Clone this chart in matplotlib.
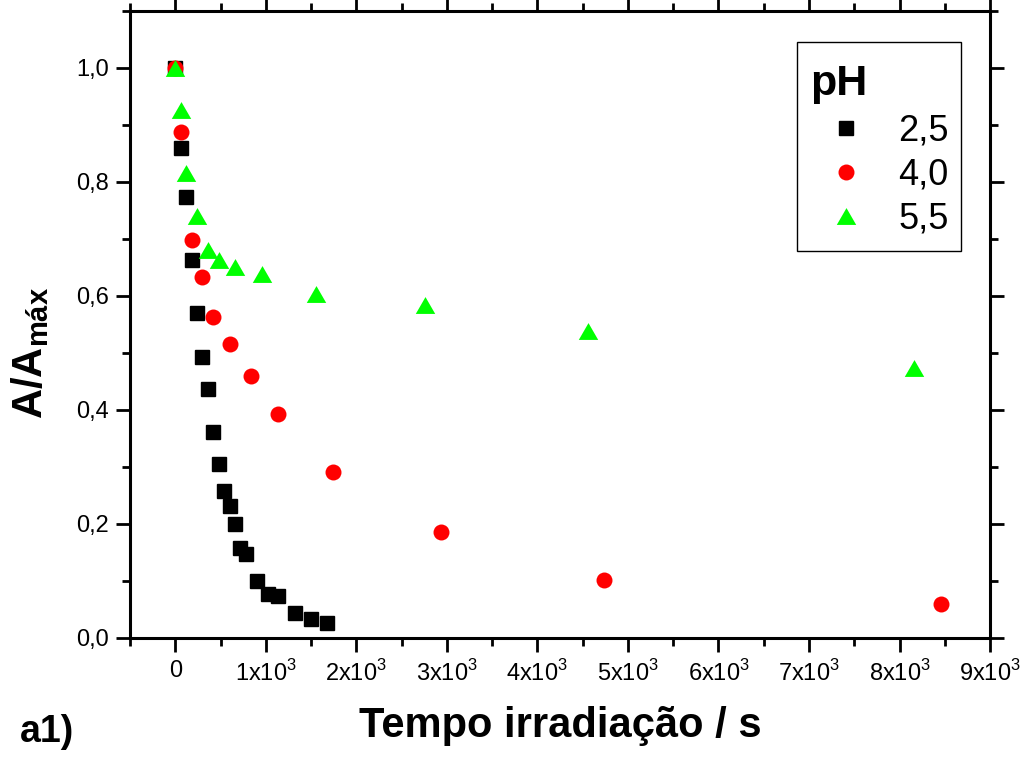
import numpy as np
import matplotlib
matplotlib.use("Agg")
import matplotlib.pyplot as plt
from matplotlib.patches import Rectangle
from matplotlib.ticker import MultipleLocator, FixedLocator

plt.rcParams['font.family'] = ['Liberation Sans', 'DejaVu Sans']
plt.rcParams['mathtext.fontset'] = 'custom'
plt.rcParams['mathtext.rm'] = 'Liberation Sans'
plt.rcParams['mathtext.bf'] = 'Liberation Sans:bold'

# pH 2,5
t_25 = [0, 60, 120, 180, 240, 300, 360, 420, 480, 540, 600, 660, 720, 780,
        900, 1020, 1140, 1320, 1500, 1680]
a_25 = [1.0, 0.86, 0.774, 0.663, 0.571, 0.493, 0.437, 0.361, 0.306, 0.258,
        0.232, 0.2, 0.158, 0.147, 0.1, 0.077, 0.074, 0.044, 0.033, 0.027]
# pH 4,0
t_40 = [0, 60, 180, 300, 420, 600, 840, 1140, 1740, 2940, 4740, 8460]
a_40 = [1.0, 0.888, 0.698, 0.633, 0.563, 0.516, 0.46, 0.393, 0.291, 0.186,
        0.102, 0.06]
# pH 5,5
t_55 = [0, 60, 120, 240, 360, 480, 660, 960, 1560, 2760, 4560, 8160]
a_55 = [1.0, 0.927, 0.816, 0.741, 0.681, 0.663, 0.651, 0.639, 0.604, 0.584,
        0.539, 0.474]

labels = ["2,5", "4,0", "5,5"]

tri = [(-1, -0.866), (1, -0.866), (0, 0.866), (-1, -0.866)]

fig = plt.figure(figsize=(10.3, 7.57), dpi=100)
ax = fig.add_axes([0.1262, 0.1572, 0.835, 0.8283])

ax.plot(t_25, a_25, ls='none', marker='s', ms=10, color='black', mec='black', label=labels[0])
ax.plot(t_40, a_40, ls='none', marker='o', ms=11.5, color='red', mec='red', mew=0, label=labels[1])
ax.plot(t_55, a_55, ls='none', marker=tri, ms=14, color='#00ff00', mec='#00ff00', mew=0, label=labels[2])

ax.set_xlim(-500, 9000)
ax.set_ylim(0, 1.1)

xt = np.arange(0, 9001, 1000)
ax.xaxis.set_major_locator(FixedLocator(xt))
ax.set_xticklabels(["0"] + [f"{i}x10$^3$" for i in range(1, 10)])
ax.xaxis.set_minor_locator(MultipleLocator(500))
yt = np.arange(0, 1.01, 0.2)
ax.yaxis.set_major_locator(FixedLocator(yt))
ax.set_yticklabels([f"{v:.1f}".replace('.', ',') for v in yt])
ax.yaxis.set_minor_locator(MultipleLocator(0.1))

for s in ax.spines.values():
    s.set_linewidth(2.2)
ax.tick_params(which='both', direction='out', top=True, right=True, width=2,
               labelsize=17)
ax.tick_params(which='major', length=10)
ax.tick_params(which='minor', length=6)
ax.tick_params(axis='x', pad=6)
ax.tick_params(axis='y', pad=5)

ax.set_xlabel("Tempo irradiação / s", fontsize=30, fontweight='bold', labelpad=14)
ax.set_ylabel(r"$\mathbf{A/A_{máx}}$", fontsize=30, labelpad=18)
ax.yaxis.label.set_y(0.454)

fig.text(0.019, 0.02, "a1)", fontsize=27, fontweight='bold')

# legend frame drawn separately (extra room above the title)
ax.add_patch(Rectangle((0.7756, 0.6172), 0.1907, 0.3334, transform=ax.transAxes,
                       fill=False, edgecolor='black', linewidth=1, zorder=5))
leg = ax.legend(title="pH", loc='upper left', bbox_to_anchor=(0.778, 0.932),
                borderaxespad=0, fontsize=26, frameon=False,
                handletextpad=0.45, borderpad=0.3,
                labelspacing=0.25, handlelength=2.0, alignment='left')
leg.get_title().set_fontsize(31)
leg.get_title().set_fontweight('bold')

fig.savefig("out.png", dpi=100)
